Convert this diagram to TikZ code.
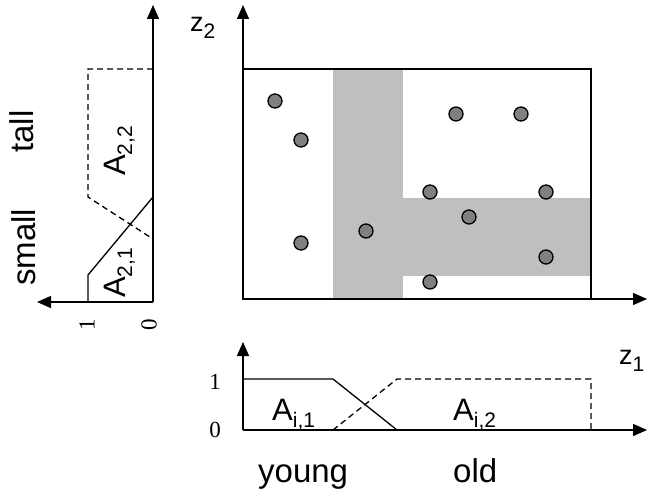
\documentclass[tikz,border=0pt]{standalone}
\usepackage{fontspec}
\setmainfont{Liberation Sans}
\newfontfamily\numfont{Liberation Serif}
\usetikzlibrary{arrows.meta}
\newcommand{\idx}[2]{#1\raisebox{-7pt}{\fontsize{21}{21}\selectfont #2}}

\begin{document}
\begin{tikzpicture}[x=1pt,y=-1pt]
    \tikzstyle{axis}=[line width=1.3pt,-{Triangle[length=14pt,width=12pt]}]
    \tikzstyle{mf}=[line width=1.3pt]
    \tikzstyle{mfdash}=[line width=1.3pt,dash pattern=on 6pt off 4pt]
    \tikzstyle{sample}=[circle,draw=black,fill=gray,line width=1.3pt,minimum size=14pt,inner sep=0pt]
    \tikzstyle{word}=[inner sep=0pt,font=\fontsize{33}{33}\selectfont]
    \tikzstyle{setname}=[inner sep=0pt,font=\fontsize{31}{31}\selectfont]
    \tikzstyle{zname}=[inner sep=0pt,font=\fontsize{27}{27}\selectfont]
    \tikzstyle{tick}=[inner sep=0pt,font=\numfont\fontsize{23}{23}\selectfont]
    \useasboundingbox (0,0) rectangle (648,495);

    % main plane
    \coordinate (o) at (243,299);
    \coordinate (z2top) at (243,5);
    \coordinate (z1end) at (647,299);
    \fill[gray!50] (333,69) rectangle (403,299);
    \fill[gray!50] (403,198) rectangle (591,276);
    \draw[mf] (243,69) rectangle (591,299);
    \draw[axis] (o) -- (z2top);
    \draw[axis] (o) -- (z1end);
    \node[zname,anchor=base west] (z_2) at (190,32) {\idx{z}{2}};
    \node[zname,anchor=base west] (z_1) at (619,364) {\idx{z}{1}};

    \node[sample] (s_1) at (275,101) {};
    \node[sample] (s_2) at (301,140) {};
    \node[sample] (s_3) at (456,114) {};
    \node[sample] (s_4) at (521,114) {};
    \node[sample] (s_5) at (430,192) {};
    \node[sample] (s_6) at (546,192) {};
    \node[sample] (s_7) at (469,217) {};
    \node[sample] (s_8) at (366,231) {};
    \node[sample] (s_9) at (301,243) {};
    \node[sample] (s_10) at (546,257) {};
    \node[sample] (s_11) at (430,282) {};

    % left plot (z2 sets)
    \coordinate (l0) at (153,302);
    \coordinate (ltop) at (153,5);
    \coordinate (lend) at (37,302);
    \draw[axis] (l0) -- (ltop);
    \draw[axis] (l0) -- (lend);
    \draw[mf] (153,197) -- (88,275) -- (88,302);
    \draw[mfdash] (153,69) -- (88,69) -- (88,197) -- (153,239);
    \node[setname,rotate=90,anchor=base west] (a_21) at (125,298) {\idx{A}{2,1}};
    \node[setname,rotate=90,anchor=base west] (a_22) at (125,176) {\idx{A}{2,2}};
    \node[word,rotate=90,anchor=base west] (tall) at (34,153) {tall};
    \node[word,rotate=90,anchor=base west] (small) at (35,286) {small};
    \node[tick,rotate=90] (t_1) at (87,325) {1};
    \node[tick,rotate=90] (t_0) at (149,325) {0};

    % bottom plot (z1 sets)
    \coordinate (b0) at (243,430);
    \coordinate (btop) at (243,342);
    \coordinate (bend) at (647,430);
    \draw[axis] (b0) -- (btop);
    \draw[axis] (b0) -- (bend);
    \draw[mf] (243,379) -- (333,379) -- (397,430);
    \draw[mfdash] (333,430) -- (397,379) -- (591,379) -- (591,430);
    \node[setname,anchor=base west] (a_i1) at (272,420) {\idx{A}{i,1}};
    \node[setname,anchor=base west] (a_i2) at (453,420) {\idx{A}{i,2}};
    \node[word,anchor=base west] (young) at (258,482) {young};
    \node[word,anchor=base west] (old) at (453,482) {old};
    \node[tick] (b_1) at (215,382) {1};
    \node[tick] (b_0) at (215,430) {0};
  \end{tikzpicture}
\end{document}
